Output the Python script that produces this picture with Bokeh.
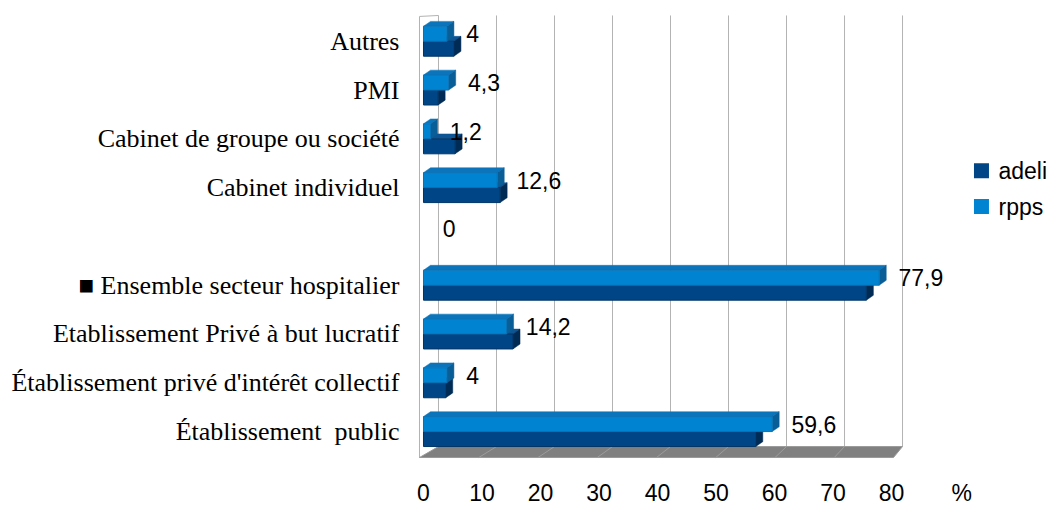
from bokeh.plotting import figure
from bokeh.models import Range1d, FixedTicker, ColumnDataSource
from bokeh.core.properties import value
from bokeh.embed import file_html
from bokeh.resources import INLINE

# ---- data (bottom row first) ----
categories = [
    "Établissement\u00a0 public",
    "Établissement privé d'intérêt collectif",
    "Etablissement Privé à but lucratif",
    "■ Ensemble secteur hospitalier",
    "",
    "Cabinet individuel",
    "Cabinet de groupe ou société",
    "PMI",
    "Autres",
]
adeli = [56.8, 3.8, 15.3, 75.7, 0, 13.1, 5.4, 2.5, 5.2]
rpps = [59.6, 4.0, 14.2, 77.9, 0, 12.6, 1.2, 4.3, 4.0]
series_names = ["adeli", "rpps"]
x_ticks = [0, 10, 20, 30, 40, 50, 60, 70, 80]
unit_label = "%"
UNIT_POS = 92

# ---- styles ----
FRONT = {"adeli": "#004586", "rpps": "#0084d1"}
EDGE = {"adeli": "#003566", "rpps": "#0a72b5"}
TOP = {"adeli": "#0d5595", "rpps": "#0b74ba"}
SIDE = {"adeli": "#002b55", "rpps": "#0a5e98"}
BAR_H = 0.307
DX, DY = 1.2, 0.10
SANS = "Liberation Sans"
SERIF = "Liberation Serif"

p = figure(width=1052, height=508,
           x_range=Range1d(-2.222, 107.18), y_range=Range1d(-0.6135, 8.630),
           min_border_left=410, min_border_right=2, min_border_top=10,
           min_border_bottom=46, toolbar_location=None, output_backend="svg")
p.outline_line_color = None
p.xgrid.visible = False
p.ygrid.visible = False
p.background_fill_color = "white"
p.border_fill_color = "white"

# axes
xa = p.xaxis[0]
xa.ticker = FixedTicker(ticks=x_ticks + [UNIT_POS])
xa.major_label_overrides = {UNIT_POS: unit_label}
xa.axis_line_color = None
xa.major_tick_line_color = None
xa.minor_tick_line_color = None
xa.major_label_text_font = SANS
xa.major_label_text_font_size = "23px"
xa.major_label_text_color = "black"
xa.major_label_standoff = 12

ya = p.yaxis[0]
rows = list(range(len(categories)))
ya.ticker = FixedTicker(ticks=rows)
ya.major_label_overrides = {i: c for i, c in zip(rows, categories)}
ya.axis_line_color = None
ya.major_tick_line_color = None
ya.minor_tick_line_color = None
ya.major_label_text_font = SERIF
ya.major_label_text_font_size = "26px"
ya.major_label_text_color = "black"
ya.major_label_standoff = 5

# ---- 3D wall, grid and floor (decor derived from ticks) ----
Y_TOP = 8.528
Y_FLOOR_BACK = -0.307
Y_FLOOR_FRONT = -0.532


def xb(v):
    return 2.564 + 0.9915 * v


def xf(v):
    return -0.684 + 1.0128 * v


p.segment(x0=[xb(v) for v in x_ticks], y0=[Y_TOP] * len(x_ticks),
          x1=[xb(v) for v in x_ticks], y1=[Y_FLOOR_BACK] * len(x_ticks),
          line_color="#b3b3b3", line_width=1)
# left wall
p.line([xf(0), xf(0)], [Y_TOP - 0.02, Y_FLOOR_FRONT], line_color="#b3b3b3", line_width=1)
p.line([xf(0), xb(0)], [Y_TOP - 0.02, Y_TOP], line_color="#b3b3b3", line_width=1)
# floor
p.patch([xb(x_ticks[0]), xb(x_ticks[-1]), xf(x_ticks[-1]), xf(x_ticks[0])],
        [Y_FLOOR_BACK, Y_FLOOR_BACK, Y_FLOOR_FRONT, Y_FLOOR_FRONT],
        fill_color="#808080", line_color="#9a9a9a", line_width=1)
p.segment(x0=[xb(v) for v in x_ticks[1:-1]], y0=[Y_FLOOR_BACK] * (len(x_ticks) - 2),
          x1=[xf(v) for v in x_ticks[1:-1]], y1=[Y_FLOOR_FRONT] * (len(x_ticks) - 2),
          line_color="#9c9c9c", line_width=1)

# ---- bars ----
for name, vals, off in (("adeli", adeli, -BAR_H), ("rpps", rpps, 0.0)):
    L, R, B, T = [], [], [], []
    txs, tys, sxs, sys_ = [], [], [], []
    for i, v in zip(rows, vals):
        if v <= 0:
            continue
        yb = i + off
        yt = yb + BAR_H
        L.append(0); R.append(v); B.append(yb); T.append(yt)
        txs.append([0, v, v + DX, DX]); tys.append([yt, yt, yt + DY, yt + DY])
        sxs.append([v, v, v + DX, v + DX]); sys_.append([yb, yt, yt + DY, yb + DY])
    p.patches(txs, tys, fill_color=TOP[name], line_color=TOP[name], line_width=0.5)
    p.patches(sxs, sys_, fill_color=SIDE[name], line_color=SIDE[name], line_width=0.5)
    p.quad(left=L, right=R, bottom=B, top=T, fill_color=FRONT[name],
           line_color=EDGE[name], line_width=1)

# ---- value labels (rpps) ----
lab_src = ColumnDataSource(dict(
    x=[v + 3.3 for v in rpps],
    y=[i + BAR_H / 2 for i in rows],
    t=[f"{v:g}".replace(".", ",") for v in rpps],
))
p.text(x="x", y="y", text="t", source=lab_src, text_font=value(SANS),
       text_font_size="23px", text_color="black", text_align="left",
       text_baseline="middle")

# ---- legend ----
leg_y = [5.348, 4.611]
p.scatter(x=[95.38, 95.38], y=leg_y, marker="square", size=15,
          fill_color=[FRONT[s] for s in series_names], line_color=None)
p.text(x=[98.29, 98.29], y=leg_y, text=series_names, text_font=value(SANS),
       text_font_size="23px", text_color="black", text_align="left",
       text_baseline="middle")

open("out.html", "w").write(file_html(p, INLINE))
